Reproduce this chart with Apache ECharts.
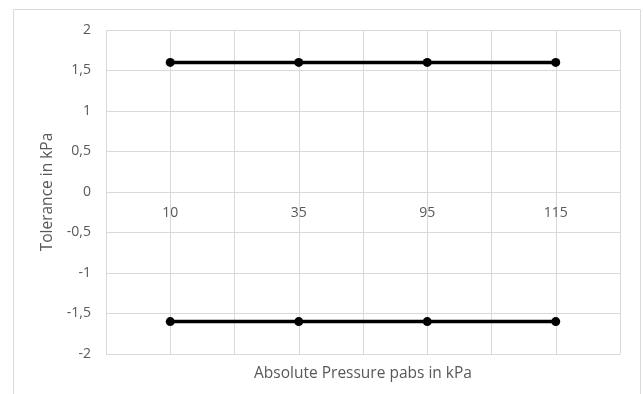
<!DOCTYPE html>
<html><head><meta charset="utf-8">
<script src="https://cdn.jsdelivr.net/npm/echarts@6/dist/echarts.min.js"></script>
<style>html,body{margin:0;padding:0;background:#fff}#c{width:643px;height:394px}</style>
</head><body><div id="c"></div>
<script>
const categories = ['10', '35', '95', '115'];
const upperTolerance = [1.6, 1.6, 1.6, 1.6];
const lowerTolerance = [-1.6, -1.6, -1.6, -1.6];
const yMin = -2, yMax = 2, yStep = 0.5;

const gridTop = 30, gridBottom = 40, chartH = 394;
const plotH = chartH - gridTop - gridBottom;
// distance from grid bottom to the y=0 line
const zeroOffset = plotH * (0 - yMin) / (yMax - yMin);

const chart = echarts.init(document.getElementById('c'), null, {renderer: 'canvas'});
const txt = '#595959', gridC = '#d9d9d9', font = 'Open Sans';
const lineSeries = (name, data) => ({
  name, type: 'line', data, xAxisIndex: 0, yAxisIndex: 0,
  symbol: 'circle', symbolSize: 9,
  lineStyle: {color: '#000', width: 3.5}, itemStyle: {color: '#000'},
  emphasis: {disabled: true}, z: 5
});
chart.setOption({
  animation: false,
  graphic: [{type: 'rect', shape: {x: 13.5, y: 9.5, width: 627, height: 400},
    style: {fill: 'none', stroke: gridC, lineWidth: 1}, silent: true}],
  grid: {left: 106, right: 23, top: gridTop, bottom: gridBottom, containLabel: false, outerBoundsMode: 'none'},
  xAxis: [{
    type: 'category', data: categories, boundaryGap: true, position: 'bottom', offset: -zeroOffset,
    axisLine: {show: false, onZero: false}, axisTick: {show: false},
    axisLabel: {color: txt, fontFamily: font, fontSize: 14, margin: 14},
    splitLine: {show: false},
    name: 'Absolute Pressure pabs in kPa', nameLocation: 'middle', nameGap: 174,
    nameTextStyle: {color: txt, fontFamily: font, fontSize: 15.5}
  }, {
    type: 'value', min: 0, max: 8, interval: 1, show: true, position: 'bottom',
    axisLine: {show: false, onZero: false}, axisTick: {show: false}, axisLabel: {show: false},
    splitLine: {show: true, lineStyle: {color: gridC, width: 1}}
  }],
  yAxis: {
    type: 'value', min: yMin, max: yMax, interval: yStep,
    axisLine: {show: false, onZero: false}, axisTick: {show: false},
    axisLabel: {color: txt, fontFamily: font, fontSize: 14, margin: 15,
      formatter: v => String(v).replace('.', ',')},
    splitLine: {lineStyle: {color: gridC, width: 1}},
    name: 'Tolerance in kPa', nameLocation: 'middle', nameGap: 50, nameRotate: 90,
    nameTextStyle: {color: txt, fontFamily: font, fontSize: 15.5}
  },
  series: [lineSeries('Upper', upperTolerance), lineSeries('Lower', lowerTolerance)]
});
</script></body></html>
